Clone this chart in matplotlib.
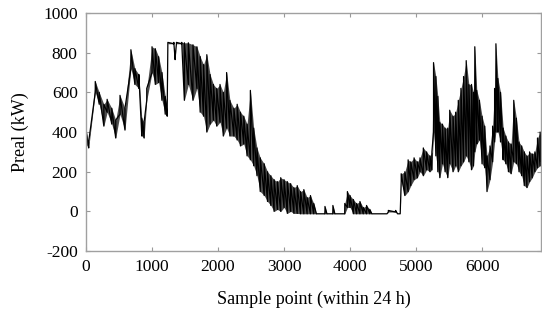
import matplotlib.pyplot as plt
import numpy as np

plt.rcParams['font.family'] = ['Liberation Serif', 'DejaVu Serif']
plt.rcParams['axes.unicode_minus'] = False

# envelope of the noisy trace: (sample index, low, high)
sample = [0, 40, 140, 200, 270, 320, 390, 450, 515, 590, 680, 740, 800, 845, 880,
          920, 1000, 1050, 1100, 1150, 1200, 1230, 1240, 1330, 1350, 1370, 1450,
          1490, 1550, 1620, 1680, 1730, 1780, 1830, 1880, 1930, 1980, 2030, 2080,
          2130, 2180, 2240, 2290, 2340, 2390, 2440, 2490, 2540, 2590, 2640, 2700,
          2750, 2800, 2850, 2900, 2950, 3000, 3050, 3100, 3150, 3200, 3250, 3300,
          3350, 3400, 3450, 3490, 3600, 3620, 3650, 3720, 3740, 3770, 3900, 3920,
          3960, 4000, 4050, 4100, 4150, 4200, 4250, 4300, 4330, 4560, 4580, 4690,
          4720, 4760, 4775, 4830, 4880, 4920, 4970, 5020, 5060, 5110, 5160, 5210,
          5240, 5265, 5300, 5330, 5360, 5400, 5440, 5480, 5510, 5560, 5600, 5640,
          5680, 5720, 5760, 5800, 5840, 5870, 5890, 5920, 5960, 6000, 6040, 6075,
          6120, 6160, 6190, 6210, 6240, 6280, 6320, 6360, 6400, 6440, 6480, 6520,
          6560, 6600, 6640, 6680, 6720, 6760, 6800, 6840, 6880, 6900]
p_low = [340, 320, 600, 540, 430, 500, 440, 370, 490, 410, 720, 640, 620, 380, 370,
         560, 700, 640, 650, 560, 490, 480, 845, 845, 765, 845, 845,
         560, 640, 560, 620, 500, 480, 400, 440, 460, 430, 450, 380,
         420, 380, 380, 360, 330, 340, 280, 260, 230, 180, 100, 80,
         50, 30, 0, 10, 0, 20, -10, 0, -10, -10, -12, -12,
         -12, -12, -12, -12, -12, -12, -12, -12, -12, -12, -12, -12,
         20, 20, -12, -12, -12, -12, -12, -12, -12, -12, -3, -3,
         -12, -12, 150, 80, 100, 130, 160, 170, 200, 180, 210, 200,
         210, 400, 280, 200, 170, 240, 200, 170, 240, 200, 230, 200,
         230, 250, 280, 250, 210, 230, 300, 340, 360, 240, 220, 100,
         160, 250, 350, 400, 400, 350, 260, 240, 200, 190, 250, 240,
         200, 180, 130, 120, 150, 170, 200, 220, 230, 250]
p_high = [410, 350, 655, 600, 540, 565, 520, 460, 585, 520, 815, 720, 690, 470, 450,
          620, 830, 820, 780, 700, 580, 520, 852, 852, 780, 852, 852,
          850, 850, 840, 830, 780, 740, 790, 690, 640, 620, 640, 600,
          700, 560, 520, 540, 500, 480, 440, 610, 420, 320, 270, 240,
          200, 180, 160, 150, 170, 160, 150, 140, 120, 130, 100, 110,
          70, 80, 40, -12, -12, 25, -12, -12, 30, -12, -12, 40,
          100, 80, 60, 40, 50, 20, 30, 10, -12, -12, 5, 5,
          -12, -12, 190, 200, 260, 250, 270, 250, 270, 320, 300, 280,
          300, 750, 680, 580, 450, 440, 420, 420, 510, 480, 500, 560,
          620, 680, 760, 640, 640, 600, 830, 610, 560, 480, 430, 280,
          330, 430, 620, 845, 670, 600, 420, 380, 350, 340, 560, 470,
          350, 330, 300, 280, 300, 290, 300, 370, 400, 380]

x_ticks = [0, 1000, 2000, 3000, 4000, 5000, 6000]
y_ticks = [-200, 0, 200, 400, 600, 800, 1000]

s = np.array(sample)
lo = np.array(p_low)
hi = np.array(p_high)

fig = plt.figure(figsize=(5.42, 3.10), dpi=100)
ax = fig.add_axes([0.1587, 0.19, 0.8403, 0.768])

ax.fill_between(s, lo, hi, color='black', lw=0, alpha=0.7)
# zigzag between low and high to mimic the sample-to-sample noise
zx = np.repeat(s, 2)
zy = np.column_stack([lo, hi]).ravel()
ax.plot(zx, zy, color='black', lw=0.9)

ax.set_xlim(0, 6900)
ax.set_ylim(-200, 1000)
ax.set_xticks(x_ticks)
ax.set_yticks(y_ticks)
ax.tick_params(direction='in', length=3, width=0.8, color='#999999',
               top=True, right=True, labelsize=12.5, pad=6)
for sp in ax.spines.values():
    sp.set_color('#a0a0a0')
    sp.set_linewidth(1.0)

ax.set_xlabel('Sample point (within 24 h)', fontsize=13, labelpad=11)
ax.set_ylabel('Preal (kW)', fontsize=13, labelpad=10)

fig.savefig('out.png', dpi=100)
